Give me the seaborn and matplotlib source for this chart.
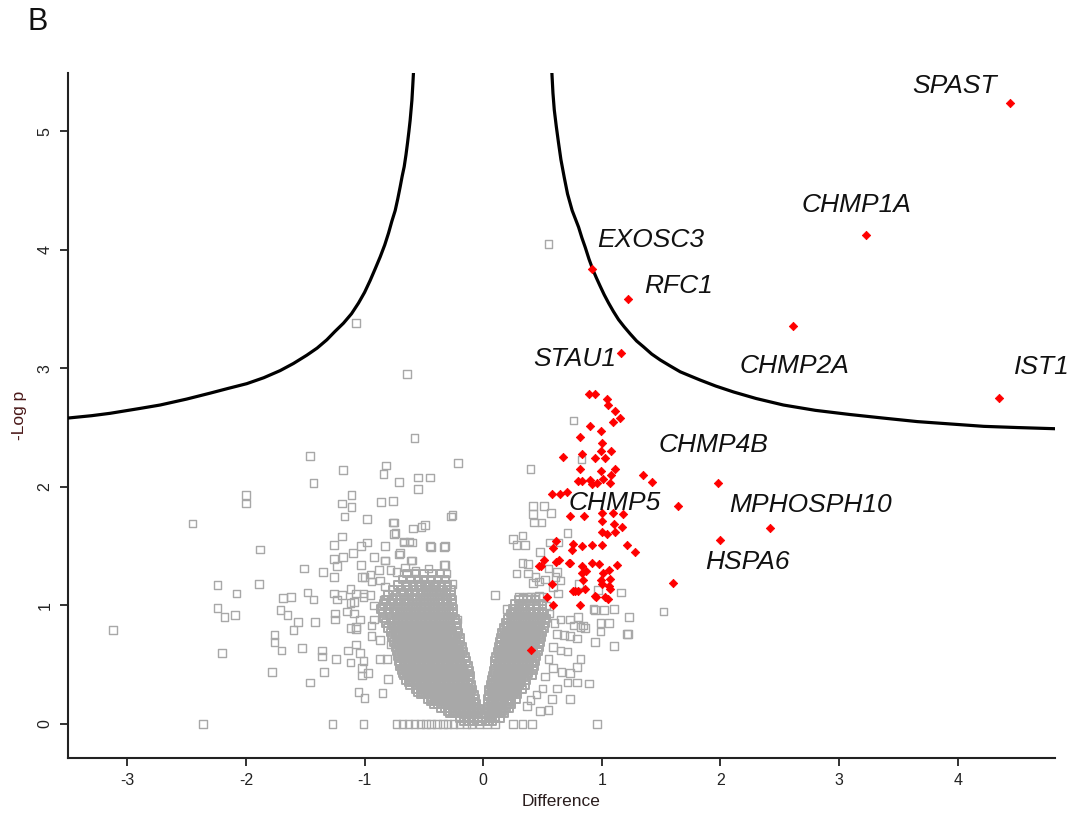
import matplotlib
matplotlib.use("Agg")
import matplotlib.pyplot as plt
import seaborn as sns
import pandas as pd

# ---------------- data ----------------
# scattered (non-significant) proteins, grey open squares
gray_sparse = [
    (-3.12, 0.79), (-2.36, 0.0), (-2.45, 1.69), (-2.00, 1.93), (-2.00, 1.86), (-1.88, 1.47),
    (-2.24, 1.17), (-2.08, 1.10), (-1.89, 1.18), (-2.24, 0.98), (-2.18, 0.90), (-2.09, 0.92),
    (-2.20, 0.60), (-1.78, 0.44), (-1.46, 0.35), (-1.34, 0.44), (-1.27, 0.0), (-1.01, 0.0),
    (-1.07, 3.38), (-0.64, 2.95), (-0.58, 2.41), (0.55, 4.05), (0.76, 2.56), (0.83, 2.23), (0.40, 2.15),
    (-1.46, 2.26), (-0.21, 2.20), (-1.18, 2.14), (-0.82, 2.18), (-0.84, 2.11), (-0.55, 2.08),
    (-0.45, 2.08), (-0.71, 2.04), (-0.55, 1.98), (-1.43, 2.03), (-1.11, 1.93), (-1.19, 1.86),
    (-1.11, 1.83), (-1.17, 1.75), (-0.86, 1.87), (-0.76, 1.88), (-0.98, 1.73), (-0.75, 1.70),
    (-0.27, 1.75), (-0.26, 1.76), (-0.59, 1.65), (-0.49, 1.68), (-0.75, 1.60), (-1.19, 1.58),
    (-1.26, 1.51), (-0.98, 1.53), (-1.03, 1.50), (-0.83, 1.50), (-0.67, 1.53), (-0.60, 1.53),
    (-0.44, 1.49), (-0.33, 1.49), (-1.18, 1.41), (-1.26, 1.39), (-1.10, 1.44), (-0.92, 1.41),
    (-0.83, 1.38), (-0.71, 1.43), (-0.61, 1.38), (-0.33, 1.34), (-1.51, 1.31), (-1.23, 1.33),
    (-1.03, 1.34), (-1.35, 1.28), (-1.26, 1.24), (-1.69, 1.06), (-1.62, 1.07), (-1.48, 1.11),
    (-1.43, 1.05), (-1.71, 0.96), (-1.65, 0.92), (-1.56, 0.86), (-1.42, 0.86), (-1.60, 0.79),
    (-1.76, 0.75), (-1.76, 0.69), (-1.70, 0.62), (-1.53, 0.64), (-1.36, 0.62), (-1.36, 0.57),
    (-1.24, 0.55), (-1.25, 0.93), (-1.25, 0.88), (-1.26, 1.10), (-1.19, 1.09), (-1.23, 1.05),
    (-1.15, 0.95), (-1.09, 1.03), (-1.12, 0.81), (-1.07, 0.80), (-1.14, 0.62), (-1.07, 0.67),
    (-1.12, 0.52), (-1.04, 0.60), (-1.01, 0.53), (-1.02, 0.47), (-0.97, 0.43), (-1.02, 0.41),
    (-1.05, 0.27), (-1.00, 0.22), (-0.85, 0.26), (-0.80, 0.38), (-0.87, 0.55), (-0.81, 0.55),
    (-0.94, 0.74), (-0.92, 0.88), (-0.94, 0.83), (-0.87, 0.71), (-0.78, 0.67), (-0.92, 1.00),
    (-0.84, 1.05), (-1.01, 1.10), (-1.02, 1.24), (-1.00, 1.24), (-0.87, 1.21), (-0.83, 1.16),
    (-0.95, 1.09), (-1.12, 1.14), (-1.07, 1.10), (-1.01, 1.07), (-1.12, 1.02), (-1.09, 0.93),
    (-1.04, 0.88), (-1.07, 0.82), (-0.95, 1.26), (-0.94, 1.20), (-0.88, 1.30), (-0.78, 1.30),
    (-0.73, 1.28), (-0.66, 1.32), (-0.57, 1.29), (-0.46, 1.31), (-0.31, 1.27), (-0.64, 1.17),
    (-0.53, 1.18), (-0.42, 1.16), (-0.31, 1.17), (-0.26, 1.18), (-0.76, 1.70), (-0.74, 1.61),
    (-0.52, 1.66), (-0.67, 1.54), (-0.62, 1.54), (-0.45, 1.50), (-0.32, 1.50), (-0.83, 1.38),
    (-0.70, 1.44), (-0.60, 1.38), (-0.32, 1.34), (-0.22, 0.88),
    (-0.73, 0.0), (-0.68, 0.0), (-0.63, 0.0), (-0.58, 0.0), (-0.53, 0.0), (-0.48, 0.0),
    (-0.44, 0.0), (-0.39, 0.0), (-0.34, 0.0), (-0.30, 0.0), (-0.25, 0.0), (-0.20, 0.0),
    (-0.14, 0.0), (-0.10, 0.0), (-0.03, 0.0), (0.03, 0.0), (0.10, 0.0), (0.25, 0.0),
    (0.33, 0.0), (0.41, 0.0), (0.96, 0.0),
    (0.42, 1.84), (0.51, 1.84), (0.42, 1.77), (0.57, 1.78), (0.49, 1.70), (0.43, 1.70),
    (0.71, 1.61), (0.25, 1.56), (0.33, 1.59), (0.28, 1.51), (0.35, 1.51), (0.56, 1.53),
    (0.63, 1.53), (0.48, 1.45), (0.33, 1.36), (0.38, 1.35), (0.28, 1.27), (0.38, 1.27),
    (0.44, 1.24), (0.47, 1.20), (0.42, 1.19), (0.61, 1.24), (0.65, 1.21), (0.62, 1.28),
    (0.81, 1.18), (1.16, 1.11), (0.97, 1.13), (0.10, 1.09), (0.20, 0.97), (0.26, 0.97),
    (0.33, 1.06), (0.40, 1.07), (0.47, 1.08), (1.52, 0.95), (0.94, 0.96), (1.02, 0.96),
    (1.23, 0.90), (0.99, 0.85), (1.06, 0.85), (1.21, 0.76), (0.80, 0.90), (0.84, 0.83),
    (0.93, 0.97), (1.10, 0.97), (0.65, 0.88), (0.73, 0.88), (0.82, 0.82), (0.86, 0.81),
    (0.76, 0.83), (0.99, 0.78), (1.22, 0.76), (0.62, 0.76), (0.68, 0.75), (0.73, 0.74),
    (0.79, 0.72), (0.94, 0.69), (1.10, 0.66), (0.59, 0.65), (0.65, 0.62), (0.71, 0.61),
    (0.82, 0.55), (0.79, 0.48), (0.59, 0.47), (0.66, 0.44), (0.73, 0.43), (0.89, 0.34),
    (0.79, 0.35), (0.71, 0.35), (0.58, 0.21), (0.73, 0.21), (0.48, 0.11), (0.37, 0.15),
    (0.30, 1.07), (0.37, 1.07), (0.44, 1.07), (0.50, 1.07), (0.53, 1.00), (0.56, 0.93),
    (0.60, 0.85), (0.55, 0.55), (0.52, 0.40), (0.50, 0.30), (0.45, 0.25), (0.40, 0.20),
    (0.62, 0.30), (0.55, 0.12), (0.59, 1.15), (0.63, 1.10), (0.55, 1.31), (0.52, 1.22),
]

# dense core of the volcano, listed row by row: (-Log p, [Difference values])
gray_rows = [
    (0.02, [-0.16, -0.12, -0.08, -0.04, -0.01, 0.02, 0.05, 0.08]),
    (0.05, [-0.20, -0.16, -0.12, -0.08, -0.04, -0.01, 0.02, 0.06, 0.10, 0.14]),
    (0.09, [-0.28, -0.24, -0.20, -0.16, -0.12, -0.08, -0.05, -0.02, 0.02, 0.06, 0.10, 0.14, 0.18]),
    (0.11, [-0.30, -0.26, -0.22, -0.18, -0.14, -0.10, -0.06, 0.04, 0.08, 0.12, 0.16]),
    (0.13, [-0.36, -0.32, -0.28, -0.24, -0.20, -0.16, -0.12, -0.08, -0.04, 0.03, 0.07, 0.11, 0.15, 0.19, 0.22]),
    (0.17, [-0.42, -0.38, -0.34, -0.30, -0.26, -0.22, -0.18, -0.14, -0.10, -0.06, 0.04, 0.08, 0.12, 0.16, 0.20, 0.24]),
    (0.19, [-0.44, -0.40, -0.36, -0.32, -0.28, -0.24, -0.20, -0.16, -0.12, -0.08, 0.06, 0.10, 0.14, 0.18, 0.22]),
    (0.21, [-0.47, -0.43, -0.39, -0.35, -0.31, -0.27, -0.23, -0.19, -0.15, -0.11, -0.07, 0.04, 0.08, 0.12, 0.16, 0.20, 0.24, 0.28]),
    (0.25, [-0.53, -0.49, -0.45, -0.41, -0.37, -0.33, -0.29, -0.25, -0.21, -0.17, -0.13, -0.08, 0.05, 0.09, 0.13, 0.17, 0.21, 0.25, 0.29]),
    (0.27, [-0.55, -0.51, -0.47, -0.43, -0.39, -0.35, -0.31, -0.27, -0.23, -0.19, -0.15, -0.11, 0.07, 0.11, 0.15, 0.19, 0.23, 0.27]),
    (0.29, [-0.57, -0.53, -0.49, -0.45, -0.41, -0.37, -0.33, -0.29, -0.25, -0.21, -0.17, -0.13, -0.09, 0.05, 0.09, 0.13, 0.17, 0.21, 0.25, 0.29, 0.33]),
    (0.33, [-0.62, -0.57, -0.53, -0.49, -0.45, -0.41, -0.37, -0.33, -0.29, -0.25, -0.21, -0.17, -0.13, -0.10, 0.06, 0.10, 0.14, 0.18, 0.22, 0.26, 0.30, 0.35]),
    (0.35, [-0.63, -0.59, -0.55, -0.51, -0.47, -0.43, -0.39, -0.35, -0.31, -0.27, -0.23, -0.19, -0.15, 0.08, 0.12, 0.16, 0.20, 0.24, 0.28, 0.32]),
    (0.37, [-0.65, -0.61, -0.57, -0.53, -0.49, -0.45, -0.41, -0.37, -0.33, -0.29, -0.25, -0.21, -0.17, -0.12, 0.07, 0.11, 0.15, 0.19, 0.23, 0.27, 0.31, 0.36]),
    (0.41, [-0.67, -0.63, -0.59, -0.55, -0.51, -0.47, -0.43, -0.39, -0.35, -0.31, -0.27, -0.23, -0.19, -0.15, -0.11, 0.08, 0.12, 0.16, 0.20, 0.24, 0.28, 0.32, 0.37, 0.41]),
    (0.43, [-0.68, -0.64, -0.60, -0.56, -0.52, -0.48, -0.44, -0.40, -0.36, -0.32, -0.28, -0.24, -0.20, -0.16, 0.10, 0.14, 0.18, 0.22, 0.26, 0.30, 0.34, 0.38]),
    (0.45, [-0.69, -0.65, -0.61, -0.57, -0.53, -0.49, -0.45, -0.41, -0.37, -0.33, -0.29, -0.25, -0.21, -0.17, -0.12, 0.09, 0.13, 0.17, 0.21, 0.25, 0.29, 0.33, 0.38, 0.42]),
    (0.49, [-0.70, -0.66, -0.62, -0.58, -0.54, -0.50, -0.46, -0.42, -0.38, -0.34, -0.30, -0.26, -0.22, -0.18, -0.13, 0.10, 0.14, 0.18, 0.22, 0.26, 0.30, 0.34, 0.39, 0.43]),
    (0.51, [-0.70, -0.66, -0.62, -0.58, -0.54, -0.50, -0.46, -0.42, -0.38, -0.34, -0.30, -0.26, -0.22, -0.18, 0.12, 0.16, 0.20, 0.24, 0.28, 0.32, 0.36, 0.41]),
    (0.53, [-0.71, -0.67, -0.63, -0.59, -0.55, -0.51, -0.47, -0.43, -0.39, -0.35, -0.31, -0.27, -0.23, -0.19, -0.14, 0.10, 0.14, 0.18, 0.22, 0.26, 0.30, 0.34, 0.39, 0.44]),
    (0.57, [-0.72, -0.68, -0.64, -0.60, -0.56, -0.52, -0.48, -0.44, -0.40, -0.36, -0.32, -0.28, -0.24, -0.20, -0.15, 0.11, 0.15, 0.19, 0.23, 0.27, 0.31, 0.35, 0.40, 0.45]),
    (0.59, [-0.71, -0.67, -0.63, -0.59, -0.55, -0.51, -0.47, -0.43, -0.39, -0.35, -0.31, -0.27, -0.23, -0.19, 0.13, 0.17, 0.21, 0.25, 0.29, 0.33, 0.37, 0.42]),
    (0.61, [-0.73, -0.69, -0.65, -0.61, -0.57, -0.53, -0.49, -0.45, -0.41, -0.37, -0.33, -0.29, -0.25, -0.21, -0.17, 0.12, 0.16, 0.20, 0.24, 0.28, 0.32, 0.36, 0.41, 0.46]),
    (0.65, [-0.74, -0.70, -0.66, -0.62, -0.58, -0.54, -0.50, -0.46, -0.42, -0.38, -0.34, -0.30, -0.26, -0.22, -0.18, 0.13, 0.17, 0.21, 0.25, 0.29, 0.33, 0.37, 0.42, 0.47]),
    (0.67, [-0.73, -0.69, -0.65, -0.61, -0.57, -0.53, -0.49, -0.45, -0.41, -0.37, -0.33, -0.29, -0.25, -0.21, 0.15, 0.19, 0.23, 0.27, 0.31, 0.35, 0.39, 0.44]),
    (0.69, [-0.75, -0.71, -0.67, -0.63, -0.59, -0.55, -0.51, -0.47, -0.43, -0.39, -0.35, -0.31, -0.27, -0.23, -0.19, 0.14, 0.18, 0.22, 0.26, 0.30, 0.34, 0.38, 0.43, 0.48]),
    (0.73, [-0.77, -0.72, -0.68, -0.64, -0.60, -0.56, -0.52, -0.48, -0.44, -0.40, -0.36, -0.32, -0.28, -0.24, -0.19, 0.15, 0.19, 0.23, 0.27, 0.31, 0.35, 0.39, 0.44, 0.49]),
    (0.75, [-0.74, -0.70, -0.66, -0.62, -0.58, -0.54, -0.50, -0.46, -0.42, -0.38, -0.34, -0.30, -0.26, 0.18, 0.22, 0.26, 0.30, 0.34, 0.38, 0.42, 0.47]),
    (0.77, [-0.78, -0.74, -0.70, -0.66, -0.62, -0.58, -0.54, -0.50, -0.46, -0.42, -0.38, -0.34, -0.30, -0.26, -0.21, 0.16, 0.20, 0.24, 0.28, 0.32, 0.36, 0.40, 0.45, 0.50]),
    (0.81, [-0.80, -0.75, -0.71, -0.67, -0.63, -0.59, -0.55, -0.51, -0.47, -0.43, -0.39, -0.35, -0.31, -0.27, -0.22, 0.17, 0.21, 0.25, 0.29, 0.33, 0.37, 0.41, 0.46, 0.51]),
    (0.83, [-0.73, -0.69, -0.65, -0.61, -0.57, -0.53, -0.49, -0.45, -0.41, -0.37, -0.33, -0.29, 0.20, 0.24, 0.28, 0.32, 0.36, 0.40, 0.44, 0.48]),
    (0.85, [-0.82, -0.77, -0.72, -0.68, -0.64, -0.60, -0.56, -0.52, -0.48, -0.44, -0.40, -0.36, -0.32, -0.28, -0.23, 0.19, 0.23, 0.27, 0.31, 0.35, 0.39, 0.43, 0.47, 0.52]),
    (0.89, [-0.84, -0.78, -0.73, -0.69, -0.65, -0.61, -0.57, -0.53, -0.49, -0.45, -0.41, -0.37, -0.33, -0.28, -0.24, 0.21, 0.25, 0.29, 0.33, 0.37, 0.41, 0.45, 0.49, 0.53]),
    (0.93, [-0.85, -0.79, -0.74, -0.70, -0.66, -0.62, -0.58, -0.54, -0.50, -0.46, -0.42, -0.38, -0.34, -0.29, -0.25, 0.23, 0.27, 0.31, 0.35, 0.39, 0.43, 0.47, 0.51]),
    (0.97, [-0.86, -0.80, -0.75, -0.70, -0.65, -0.61, -0.57, -0.53, -0.49, -0.45, -0.41, -0.37, -0.33, -0.29, -0.25, 0.25, 0.30, 0.35, 0.40, 0.45, 0.50]),
    (1.01, [-0.84, -0.78, -0.72, -0.67, -0.63, -0.59, -0.55, -0.50, -0.46, -0.42, -0.38, -0.34, -0.30, -0.26, 0.27, 0.33, 0.39, 0.45, 0.50]),
    (1.05, [-0.82, -0.76, -0.70, -0.65, -0.60, -0.56, -0.51, -0.47, -0.43, -0.38, -0.34, -0.30, -0.26, 0.30, 0.37, 0.44]),
    (1.09, [-0.80, -0.73, -0.67, -0.62, -0.57, -0.52, -0.48, -0.43, -0.39, -0.35, -0.31, -0.27]),
    (1.13, [-0.76, -0.69, -0.63, -0.58, -0.53, -0.48, -0.44, -0.40, -0.36, -0.31, -0.27]),
    (1.17, [-0.72, -0.65, -0.59, -0.54, -0.49, -0.45, -0.40, -0.35, -0.30]),
    (1.22, [-0.68, -0.61, -0.55, -0.50, -0.44, -0.38, -0.32]),
    (1.27, [-0.64, -0.57, -0.50, -0.43, -0.36]),
]

# significant proteins, red diamonds
red_x = [0.89, 0.94, 1.04, 1.05, 1.11, 1.15, 1.09, 0.90, 0.99, 0.82, 1.00, 0.99, 0.83, 1.08,
         0.94, 1.03, 0.67, 0.82, 0.99, 1.11, 1.08, 1.01, 0.80, 0.83, 0.90, 0.92, 0.96, 1.07,
         1.35, 1.42, 0.58, 0.65, 0.71, 0.73, 0.85, 1.00, 1.09, 1.00, 1.11, 1.17, 1.00, 1.04,
         1.18, 1.10, 0.61, 0.59, 0.76, 0.83, 0.92, 1.00, 1.21, 1.28, 0.75, 0.51, 0.61, 0.64,
         0.73, 0.92, 0.98, 1.13, 0.49, 0.83, 0.83, 1.06, 1.01, 0.58, 0.84, 0.99, 1.07, 1.00,
         1.06, 0.76, 0.80, 0.86, 0.94, 1.03, 1.05, 0.59, 0.54, 0.47, 0.72, 0.87, 1.07, 0.77,
         0.95, 0.82, 0.40, 1.60,
         4.44, 3.23, 0.92, 1.22, 2.61, 1.16, 4.35, 1.98, 1.64, 2.42, 2.00]
red_y = [2.78, 2.78, 2.74, 2.69, 2.64, 2.58, 2.55, 2.51, 2.47, 2.42, 2.37, 2.30, 2.28, 2.30,
         2.24, 2.24, 2.25, 2.15, 2.13, 2.15, 2.10, 2.07, 2.05, 2.05, 2.06, 2.02, 2.03, 2.03,
         2.10, 2.04, 1.94, 1.94, 1.96, 1.75, 1.75, 1.78, 1.78, 1.71, 1.62, 1.66, 1.62, 1.60,
         1.77, 1.69, 1.54, 1.48, 1.52, 1.50, 1.51, 1.51, 1.51, 1.45, 1.47, 1.38, 1.37, 1.38,
         1.36, 1.36, 1.35, 1.34, 1.33, 1.33, 1.27, 1.30, 1.27, 1.18, 1.21, 1.21, 1.22, 1.18,
         1.16, 1.12, 1.12, 1.14, 1.08, 1.07, 1.05, 1.00, 1.07, 1.33, 1.36, 1.29, 1.14, 1.12,
         1.07, 1.00, 0.62, 1.19,
         5.24, 4.12, 3.84, 3.58, 3.36, 3.13, 2.75, 2.03, 1.84, 1.65, 1.55]

# gene labels: left-centre position of each label
label_names = ["SPAST", "CHMP1A", "EXOSC3", "RFC1", "STAU1", "CHMP2A", "IST1",
               "CHMP4B", "CHMP5", "MPHOSPH10", "HSPA6"]
label_x = [3.62, 2.68, 0.96, 1.36, 0.42, 2.16, 4.47, 1.48, 0.72, 2.07, 1.87]
label_y = [5.38, 4.38, 4.08, 3.69, 3.08, 3.02, 3.01, 2.35, 1.86, 1.85, 1.37]

# significance threshold curve
curve_right_x = [0.579, 0.588, 0.599, 0.616, 0.635, 0.655, 0.683, 0.711, 0.750, 0.777, 0.804,
                 0.832, 0.860, 0.892, 0.925, 0.955, 0.987, 1.020, 1.057, 1.097, 1.141, 1.188,
                 1.239, 1.293, 1.352, 1.420, 1.492, 1.575, 1.661, 1.745, 1.830, 1.96, 2.11,
                 2.30, 2.53, 2.80, 3.09, 3.37, 3.66, 3.94, 4.22, 4.50, 4.82]
curve_right_y = [5.49, 5.32, 5.18, 5.04, 4.90, 4.76, 4.61, 4.47, 4.33, 4.26, 4.19,
                 4.10, 4.02, 3.92, 3.83, 3.76, 3.69, 3.62, 3.55, 3.48, 3.41, 3.35,
                 3.29, 3.23, 3.18, 3.12, 3.07, 3.02, 2.97, 2.935, 2.90, 2.85, 2.80,
                 2.745, 2.69, 2.645, 2.61, 2.58, 2.55, 2.53, 2.51, 2.50, 2.49]
curve_left_x = [-3.50, -3.30, -3.145, -2.90, -2.723, -2.50, -2.302, -2.15, -1.993, -1.85,
                -1.712, -1.60, -1.487, -1.40, -1.318, -1.25, -1.178, -1.11, -1.051, -1.00,
                -0.953, -0.91, -0.868, -0.83, -0.798, -0.77, -0.742, -0.72, -0.700, -0.683,
                -0.666, -0.651, -0.638, -0.626, -0.616, -0.608, -0.601, -0.594, -0.588]
curve_left_y = [2.58, 2.60, 2.62, 2.66, 2.69, 2.74, 2.79, 2.83, 2.87, 2.92,
                2.98, 3.04, 3.11, 3.17, 3.24, 3.31, 3.38, 3.46, 3.55, 3.64,
                3.74, 3.84, 3.94, 4.04, 4.14, 4.24, 4.33, 4.43, 4.53, 4.62,
                4.70, 4.80, 4.90, 5.00, 5.09, 5.18, 5.26, 5.38, 5.49]

x_ticks = [-3, -2, -1, 0, 1, 2, 3, 4]
y_ticks = [0, 1, 2, 3, 4, 5]

# ---------------- build tables ----------------
sparse_df = pd.DataFrame({"Difference": [p[0] for p in gray_sparse],
                          "-Log p": [p[1] for p in gray_sparse]})
dense_df = pd.DataFrame({"Difference": [x for y, xs in gray_rows for x in xs],
                         "-Log p": [y for y, xs in gray_rows for x in xs]})
red_df = pd.DataFrame({"Difference": red_x, "-Log p": red_y})
cr = pd.DataFrame({"x": curve_right_x, "y": curve_right_y})
cl = pd.DataFrame({"x": curve_left_x, "y": curve_left_y})

# ---------------- plot ----------------
sns.set_style("ticks")
plt.rcParams["font.family"] = ["Liberation Sans", "DejaVu Sans"]

fig = plt.figure(figsize=(10.71, 8.14), dpi=100)
ax = fig.add_axes([68 / 1071, 1 - 758 / 814, (1055 - 68) / 1071, (758 - 73) / 814])

GREY = "#a8a8a8"
sns.scatterplot(data=dense_df, x="Difference", y="-Log p", ax=ax, marker="s", s=30,
                fc="none", ec=GREY, linewidth=1.4, zorder=2, legend=False)
sns.scatterplot(data=sparse_df, x="Difference", y="-Log p", ax=ax, marker="s", s=30,
                fc="none", ec=GREY, linewidth=1.0, zorder=2, legend=False)
sns.lineplot(data=cr, x="x", y="y", ax=ax, sort=False, estimator=None,
             color="black", linewidth=2.3, zorder=3)
sns.lineplot(data=cl, x="x", y="y", ax=ax, sort=False, estimator=None,
             color="black", linewidth=2.3, zorder=3)
sns.scatterplot(data=red_df, x="Difference", y="-Log p", ax=ax, marker="D", s=18,
                color="#ff0000", ec="#ff0000", linewidth=0.6, zorder=4, legend=False)

for name, lx, ly in zip(label_names, label_x, label_y):
    ax.text(lx, ly, name, fontsize=19, fontstyle="italic", ha="left", va="center",
            color="#111111", zorder=5, clip_on=False)

ax.set_xlim(-3.50, 4.82)
ax.set_ylim(-0.287, 5.49)
ax.set_xticks(x_ticks)
ax.set_yticks(y_ticks)
ax.set_xticklabels([str(t) for t in x_ticks])
ax.set_yticklabels([str(t) for t in y_ticks], rotation=90, va="center")

narrow = ["Liberation Sans Narrow", "Liberation Sans", "DejaVu Sans"]
for lab in ax.get_xticklabels() + ax.get_yticklabels():
    lab.set_family(narrow)
    lab.set_fontsize(11.5)
    lab.set_color("#222222")

ax.tick_params(axis="both", direction="out", length=6, width=1.3, color="#222222", pad=5)
for side in ["top", "right"]:
    ax.spines[side].set_visible(False)
for side in ["left", "bottom"]:
    ax.spines[side].set_linewidth(1.5)
    ax.spines[side].set_color("#222222")

ax.set_xlabel("Difference", fontsize=12.5, family=narrow, color="#2a1d1d", labelpad=4)
ax.set_ylabel("-Log p", fontsize=12.5, family=narrow, color="#4a1818", labelpad=8)

fig.text(38 / 1071, 1 - 22 / 814, "B", fontsize=22, ha="center", va="center", color="#111111")

fig.savefig("out.png", dpi=100, facecolor="white")
